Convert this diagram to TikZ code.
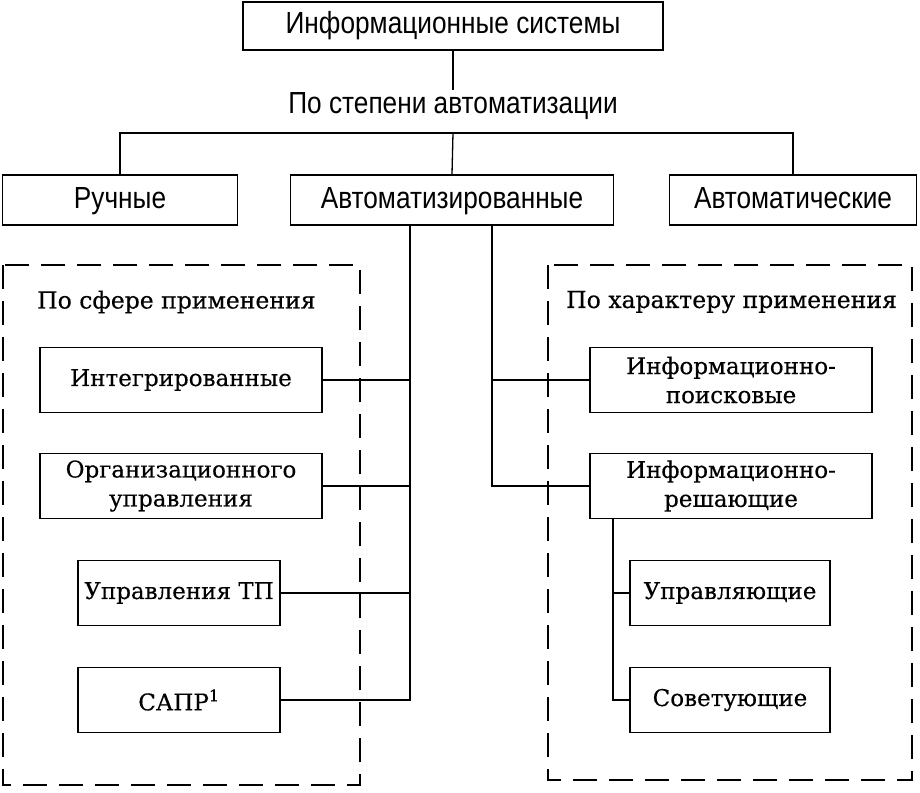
\documentclass[tikz,border=0pt]{standalone}
\usepackage{fontspec}
\setmainfont[FakeBold=0.4]{DejaVu Serif}
\newfontfamily\narrowsans[FakeStretch=0.86]{Liberation Sans}
\usepackage{tikz}
\usetikzlibrary{calc}

\begin{document}
\begin{tikzpicture}[x=1pt, y=-1pt,
		topbox/.style={draw, line width=1.8pt, inner sep=0pt, text height=22pt, text depth=6pt, font=\narrowsans\fontsize{30.5}{34}\selectfont},
		subbox/.style={draw, line width=1.8pt, inner sep=0pt, align=center, font=\fontsize{23}{29}\selectfont},
		grouplabel/.style={inner sep=0pt, font=\fontsize{23.5}{28}\selectfont},
		wire/.style={line width=1.3pt},
		dashframe/.style={line width=2.8pt, dash pattern=on 24pt off 12pt}]
			%%%%% START %%%%%
			\useasboundingbox (0, 0) rectangle (920, 792);
			
			\node[topbox, minimum width=420, minimum height=48] (infsys) at (453, 26) {Информационные системы};
			\node[inner sep=2pt, font=\narrowsans\fontsize{30.5}{34}\selectfont] (bydegree) at (453, 106) {По степени автоматизации};
			
			\node[topbox, minimum width=235, minimum height=50] (manual) at (120, 200) {Ручные};
			\node[topbox, minimum width=323, minimum height=50] (automated) at (452, 200) {Автоматизированные};
			\node[topbox, minimum width=247, minimum height=50] (automatic) at (793, 200) {Автоматические};
			
			\coordinate (bus) at (453, 133);
			\draw[wire] (infsys) -- (bydegree);
			\draw[wire] (manual.north) |- (bus) -| (automatic.north);
			\draw[wire] (bus) -- (automated.north);
			
			% sphere of use
			\draw[dashframe] (3, 265) rectangle (360, 785);
			\node[grouplabel, anchor=west] (bysphere) at (37, 302) {По сфере применения};
			
			\node[subbox, minimum width=282, minimum height=65] (integ) at (181, 380) {Интегрированные};
			\node[subbox, minimum width=282, minimum height=65] (orgman) at (181, 486) {Организационного\\управления};
			\node[subbox, minimum width=202, minimum height=65] (tpman) at (179, 593) {Управления ТП};
			\node[subbox, minimum width=202, minimum height=65] (cad) at (179, 700) {САПР\textsuperscript{1}};
			
			\coordinate (trunkL) at (410, 0);
			\draw[wire] (automated.south -| trunkL) -- (cad.east -| trunkL) -- (cad.east);
			\draw[wire] (integ.east) -- (integ.east -| trunkL);
			\draw[wire] (orgman.east) -- (orgman.east -| trunkL);
			\draw[wire] (tpman.east) -- (tpman.east -| trunkL);
			
			% character of use
			\draw[dashframe] (548, 265) rectangle (912, 780);
			\node[grouplabel, anchor=west] (bychar) at (566, 302) {По характеру применения};
			
			\node[subbox, minimum width=282, minimum height=65] (search) at (731, 380) {Информационно-\\поисковые};
			\node[subbox, minimum width=282, minimum height=65] (decide) at (731, 486) {Информационно-\\решающие};
			\node[subbox, minimum width=200, minimum height=65] (control) at (730, 593) {Управляющие};
			\node[subbox, minimum width=200, minimum height=65] (advise) at (730, 700) {Советующие};
			
			\coordinate (trunkR) at (492, 0);
			\draw[wire] (automated.south -| trunkR) -- (decide.west -| trunkR) -- (decide.west);
			\draw[wire] (search.west -| trunkR) -- (search.west);
			
			\coordinate (trunkS) at (613, 0);
			\draw[wire] (decide.south -| trunkS) -- (advise.west -| trunkS) -- (advise.west);
			\draw[wire] (control.west -| trunkS) -- (control.west);
			
			%%%%% END %%%%%
\end{tikzpicture}
\end{document}
